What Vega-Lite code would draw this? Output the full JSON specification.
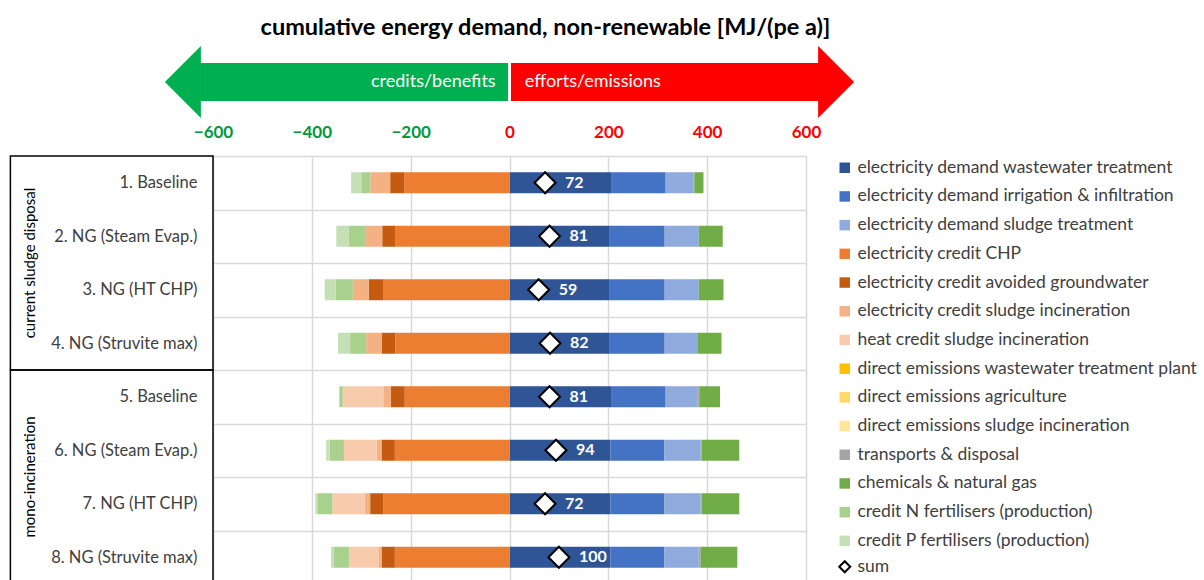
{
 "$schema": "https://vega.github.io/schema/vega-lite/v6.json",
 "padding": {"left": 9, "top": 15, "right": 0, "bottom": 0},
 "background": "white",
 "config": {"font": "Lato", "view": {"stroke": null}},
 "spacing": 5,
 "datasets": {
  "arrows": [{"label": "credits/benefits", "side": "left"}, {"label": "efforts/emissions", "side": "right"}],
  "groups": [
   {"group": "current sludge disposal", "first": "1. Baseline", "mid": "2. NG (Steam Evap.)", "last": "4. NG (Struvite max)"},
   {"group": "mono-incineration", "first": "5. Baseline", "mid": "6. NG (Steam Evap.)", "last": "8. NG (Struvite max)"}
  ],
  "sums": [
   {"scenario": "1. Baseline", "sum": 72},
   {"scenario": "2. NG (Steam Evap.)", "sum": 81},
   {"scenario": "3. NG (HT CHP)", "sum": 59},
   {"scenario": "4. NG (Struvite max)", "sum": 82},
   {"scenario": "5. Baseline", "sum": 81},
   {"scenario": "6. NG (Steam Evap.)", "sum": 94},
   {"scenario": "7. NG (HT CHP)", "sum": 72},
   {"scenario": "8. NG (Struvite max)", "sum": 100}
  ],
  "bars": [
   {"scenario": "1. Baseline", "component": "electricity demand wastewater treatment", "value": 207},
   {"scenario": "1. Baseline", "component": "electricity demand irrigation & infiltration", "value": 109},
   {"scenario": "1. Baseline", "component": "electricity demand sludge treatment", "value": 57},
   {"scenario": "1. Baseline", "component": "transports & disposal", "value": 1},
   {"scenario": "1. Baseline", "component": "chemicals & natural gas", "value": 18.5},
   {"scenario": "1. Baseline", "component": "electricity credit CHP", "value": -213},
   {"scenario": "1. Baseline", "component": "electricity credit avoided groundwater", "value": -28.5},
   {"scenario": "1. Baseline", "component": "electricity credit sludge incineration", "value": -40},
   {"scenario": "1. Baseline", "component": "credit N fertilisers (production)", "value": -18.5},
   {"scenario": "1. Baseline", "component": "credit P fertilisers (production)", "value": -20.5},

   {"scenario": "2. NG (Steam Evap.)", "component": "electricity demand wastewater treatment", "value": 203},
   {"scenario": "2. NG (Steam Evap.)", "component": "electricity demand irrigation & infiltration", "value": 111},
   {"scenario": "2. NG (Steam Evap.)", "component": "electricity demand sludge treatment", "value": 69},
   {"scenario": "2. NG (Steam Evap.)", "component": "chemicals & natural gas", "value": 48.5},
   {"scenario": "2. NG (Steam Evap.)", "component": "electricity credit CHP", "value": -230.5},
   {"scenario": "2. NG (Steam Evap.)", "component": "electricity credit avoided groundwater", "value": -27},
   {"scenario": "2. NG (Steam Evap.)", "component": "electricity credit sludge incineration", "value": -35},
   {"scenario": "2. NG (Steam Evap.)", "component": "credit N fertilisers (production)", "value": -32.5},
   {"scenario": "2. NG (Steam Evap.)", "component": "credit P fertilisers (production)", "value": -25.5},

   {"scenario": "3. NG (HT CHP)", "component": "electricity demand wastewater treatment", "value": 203},
   {"scenario": "3. NG (HT CHP)", "component": "electricity demand irrigation & infiltration", "value": 111},
   {"scenario": "3. NG (HT CHP)", "component": "electricity demand sludge treatment", "value": 69},
   {"scenario": "3. NG (HT CHP)", "component": "chemicals & natural gas", "value": 50},
   {"scenario": "3. NG (HT CHP)", "component": "electricity credit CHP", "value": -256},
   {"scenario": "3. NG (HT CHP)", "component": "electricity credit avoided groundwater", "value": -28.5},
   {"scenario": "3. NG (HT CHP)", "component": "electricity credit sludge incineration", "value": -32.5},
   {"scenario": "3. NG (HT CHP)", "component": "credit N fertilisers (production)", "value": -35},
   {"scenario": "3. NG (HT CHP)", "component": "credit P fertilisers (production)", "value": -22},

   {"scenario": "4. NG (Struvite max)", "component": "electricity demand wastewater treatment", "value": 203},
   {"scenario": "4. NG (Struvite max)", "component": "electricity demand irrigation & infiltration", "value": 111},
   {"scenario": "4. NG (Struvite max)", "component": "electricity demand sludge treatment", "value": 66},
   {"scenario": "4. NG (Struvite max)", "component": "chemicals & natural gas", "value": 49},
   {"scenario": "4. NG (Struvite max)", "component": "electricity credit CHP", "value": -231},
   {"scenario": "4. NG (Struvite max)", "component": "electricity credit avoided groundwater", "value": -27},
   {"scenario": "4. NG (Struvite max)", "component": "electricity credit sludge incineration", "value": -32},
   {"scenario": "4. NG (Struvite max)", "component": "credit N fertilisers (production)", "value": -32.5},
   {"scenario": "4. NG (Struvite max)", "component": "credit P fertilisers (production)", "value": -24.5},

   {"scenario": "5. Baseline", "component": "electricity demand wastewater treatment", "value": 207},
   {"scenario": "5. Baseline", "component": "electricity demand irrigation & infiltration", "value": 109},
   {"scenario": "5. Baseline", "component": "electricity demand sludge treatment", "value": 64},
   {"scenario": "5. Baseline", "component": "transports & disposal", "value": 4},
   {"scenario": "5. Baseline", "component": "chemicals & natural gas", "value": 42},
   {"scenario": "5. Baseline", "component": "electricity credit CHP", "value": -212},
   {"scenario": "5. Baseline", "component": "electricity credit avoided groundwater", "value": -28},
   {"scenario": "5. Baseline", "component": "electricity credit sludge incineration", "value": -15.5},
   {"scenario": "5. Baseline", "component": "heat credit sludge incineration", "value": -82},
   {"scenario": "5. Baseline", "component": "credit N fertilisers (production)", "value": -5.5},
   {"scenario": "5. Baseline", "component": "credit P fertilisers (production)", "value": -2},

   {"scenario": "6. NG (Steam Evap.)", "component": "electricity demand wastewater treatment", "value": 204.5},
   {"scenario": "6. NG (Steam Evap.)", "component": "electricity demand irrigation & infiltration", "value": 109},
   {"scenario": "6. NG (Steam Evap.)", "component": "electricity demand sludge treatment", "value": 73.5},
   {"scenario": "6. NG (Steam Evap.)", "component": "transports & disposal", "value": 2},
   {"scenario": "6. NG (Steam Evap.)", "component": "chemicals & natural gas", "value": 76},
   {"scenario": "6. NG (Steam Evap.)", "component": "electricity credit CHP", "value": -232},
   {"scenario": "6. NG (Steam Evap.)", "component": "electricity credit avoided groundwater", "value": -27},
   {"scenario": "6. NG (Steam Evap.)", "component": "electricity credit sludge incineration", "value": -10},
   {"scenario": "6. NG (Steam Evap.)", "component": "heat credit sludge incineration", "value": -66},
   {"scenario": "6. NG (Steam Evap.)", "component": "credit N fertilisers (production)", "value": -29},
   {"scenario": "6. NG (Steam Evap.)", "component": "credit P fertilisers (production)", "value": -7},

   {"scenario": "7. NG (HT CHP)", "component": "electricity demand wastewater treatment", "value": 204.5},
   {"scenario": "7. NG (HT CHP)", "component": "electricity demand irrigation & infiltration", "value": 109},
   {"scenario": "7. NG (HT CHP)", "component": "electricity demand sludge treatment", "value": 73.5},
   {"scenario": "7. NG (HT CHP)", "component": "transports & disposal", "value": 2},
   {"scenario": "7. NG (HT CHP)", "component": "chemicals & natural gas", "value": 76},
   {"scenario": "7. NG (HT CHP)", "component": "electricity credit CHP", "value": -255},
   {"scenario": "7. NG (HT CHP)", "component": "electricity credit avoided groundwater", "value": -27},
   {"scenario": "7. NG (HT CHP)", "component": "electricity credit sludge incineration", "value": -11.5},
   {"scenario": "7. NG (HT CHP)", "component": "heat credit sludge incineration", "value": -65},
   {"scenario": "7. NG (HT CHP)", "component": "credit N fertilisers (production)", "value": -29},
   {"scenario": "7. NG (HT CHP)", "component": "credit P fertilisers (production)", "value": -5.5},

   {"scenario": "8. NG (Struvite max)", "component": "electricity demand wastewater treatment", "value": 204.5},
   {"scenario": "8. NG (Struvite max)", "component": "electricity demand irrigation & infiltration", "value": 109},
   {"scenario": "8. NG (Struvite max)", "component": "electricity demand sludge treatment", "value": 69.5},
   {"scenario": "8. NG (Struvite max)", "component": "transports & disposal", "value": 4},
   {"scenario": "8. NG (Struvite max)", "component": "chemicals & natural gas", "value": 74},
   {"scenario": "8. NG (Struvite max)", "component": "electricity credit CHP", "value": -232},
   {"scenario": "8. NG (Struvite max)", "component": "electricity credit avoided groundwater", "value": -27},
   {"scenario": "8. NG (Struvite max)", "component": "electricity credit sludge incineration", "value": -6.5},
   {"scenario": "8. NG (Struvite max)", "component": "heat credit sludge incineration", "value": -59.5},
   {"scenario": "8. NG (Struvite max)", "component": "credit N fertilisers (production)", "value": -30},
   {"scenario": "8. NG (Struvite max)", "component": "credit P fertilisers (production)", "value": -6}
  ]
 },
 "vconcat": [
  {
   "width": 593,
   "height": 72,
   "title": {"text": "cumulative energy demand, non-renewable [MJ/(pe a)]", "font": "Lato", "fontSize": 23.5, "fontWeight": "bold", "color": "#000000", "anchor": "middle", "dx": 36, "offset": 7},
   "data": {"name": "arrows"},
   "layer": [
    {
     "transform": [{"filter": "datum.side === 'left'"}],
     "mark": {"type": "rect", "color": "#00B050"},
     "encoding": {
      "x": {"datum": -626, "type": "quantitative", "scale": {"domain": [-600, 600]}, "axis": null},
      "x2": {"datum": -3},
      "y": {"datum": -0.528, "type": "quantitative", "scale": {"domain": [-1, 1]}, "axis": null},
      "y2": {"datum": 0.528}
     }
    },
    {
     "transform": [{"filter": "datum.side === 'left'"}],
     "mark": {"type": "point", "shape": "M0.5,-1L-0.5,0L0.5,1Z", "size": 5184, "filled": true, "color": "#00B050", "opacity": 1, "strokeWidth": 0},
     "encoding": {"x": {"datum": -661, "type": "quantitative"}, "y": {"datum": 0, "type": "quantitative"}}
    },
    {
     "transform": [{"filter": "datum.side === 'left'"}],
     "mark": {"type": "text", "align": "right", "baseline": "middle", "color": "#FFFFFF", "fontSize": 18, "font": "Lato"},
     "encoding": {"x": {"datum": -28, "type": "quantitative"}, "y": {"datum": 0, "type": "quantitative"}, "text": {"field": "label"}}
    },
    {
     "transform": [{"filter": "datum.side === 'right'"}],
     "mark": {"type": "rect", "color": "#FF0000"},
     "encoding": {
      "x": {"datum": 3, "type": "quantitative"},
      "x2": {"datum": 626},
      "y": {"datum": -0.528, "type": "quantitative"},
      "y2": {"datum": 0.528}
     }
    },
    {
     "transform": [{"filter": "datum.side === 'right'"}],
     "mark": {"type": "point", "shape": "M-0.5,-1L0.5,0L-0.5,1Z", "size": 5184, "filled": true, "color": "#FF0000", "opacity": 1, "strokeWidth": 0},
     "encoding": {"x": {"datum": 661, "type": "quantitative"}, "y": {"datum": 0, "type": "quantitative"}}
    },
    {
     "transform": [{"filter": "datum.side === 'right'"}],
     "mark": {"type": "text", "align": "left", "baseline": "middle", "color": "#FFFFFF", "fontSize": 18, "font": "Lato"},
     "encoding": {"x": {"datum": 31, "type": "quantitative"}, "y": {"datum": 0, "type": "quantitative"}, "text": {"field": "label"}}
    }
   ]
  },
  {
   "width": 593,
   "height": 428,
   "layer": [
    {
     "data": {"name": "bars"},
     "transform": [{"calculate": "indexof(['electricity demand wastewater treatment','electricity demand irrigation & infiltration','electricity demand sludge treatment','electricity credit CHP','electricity credit avoided groundwater','electricity credit sludge incineration','heat credit sludge incineration','direct emissions wastewater treatment plant','direct emissions agriculture','direct emissions sludge incineration','transports & disposal','chemicals & natural gas','credit N fertilisers (production)','credit P fertilisers (production)'], datum.component)", "as": "rank"}],
     "mark": {"type": "bar", "size": 21},
     "encoding": {
      "x": {
       "field": "value", "type": "quantitative", "stack": "zero",
       "scale": {"domain": [-600, 600], "nice": false},
       "axis": {
        "orient": "top", "values": [-600, -400, -200, 0, 200, 400, 600], "title": null,
        "labelFont": "Lato", "labelFontSize": 17, "labelFontWeight": "bold",
        "labelColor": {"condition": {"test": "datum.value < 0", "value": "#009A3E"}, "value": "#FF0000"},
        "ticks": false, "domain": false, "grid": true, "gridColor": "#D9D9D9", "gridWidth": 1.5,
        "labelPadding": 15, "labelFlush": false, "labelOverlap": false
       }
      },
      "y": {
       "field": "scenario", "type": "nominal",
       "scale": {"domain": ["1. Baseline", "2. NG (Steam Evap.)", "3. NG (HT CHP)", "4. NG (Struvite max)", "5. Baseline", "6. NG (Steam Evap.)", "7. NG (HT CHP)", "8. NG (Struvite max)"], "paddingInner": 0, "paddingOuter": 0},
       "axis": {
        "title": null, "labelFont": "Lato", "labelFontSize": 16.5, "labelColor": "#404040",
        "labelPadding": 16, "ticks": false, "domain": false, "grid": true, "tickBand": "extent",
        "gridColor": "#D9D9D9", "gridWidth": 1.5
       }
      },
      "color": {
       "field": "component", "type": "nominal",
       "scale": {
        "domain": ["electricity demand wastewater treatment", "electricity demand irrigation & infiltration", "electricity demand sludge treatment", "electricity credit CHP", "electricity credit avoided groundwater", "electricity credit sludge incineration", "heat credit sludge incineration", "direct emissions wastewater treatment plant", "direct emissions agriculture", "direct emissions sludge incineration", "transports & disposal", "chemicals & natural gas", "credit N fertilisers (production)", "credit P fertilisers (production)"],
        "range": ["#2F5597", "#4472C4", "#8FAADC", "#ED7D31", "#C55A11", "#F4B183", "#F8CBAD", "#FFC000", "#FFD966", "#FFE699", "#A5A5A5", "#70AD47", "#A9D18E", "#C5E0B4"]
       },
       "legend": {
        "title": null, "orient": "none", "legendX": 623, "legendY": 113,
        "symbolType": "square", "symbolSize": 110, "symbolStrokeWidth": 0,
        "labelFont": "Lato", "labelFontSize": 17.5, "labelColor": "#404040", "labelLimit": 500,
        "labelOffset": 4, "rowPadding": 9.7
       }
      },
      "order": {"field": "rank", "type": "quantitative"}
     }
    },
    {
     "data": {"name": "groups"},
     "mark": {"type": "rect", "fillOpacity": 0, "stroke": "#000000", "strokeWidth": 1.5},
     "encoding": {
      "x": {"datum": -1010, "type": "quantitative"},
      "x2": {"datum": -600},
      "y": {"field": "first", "type": "nominal", "bandPosition": 0},
      "y2": {"field": "last", "bandPosition": 1}
     }
    },
    {
     "data": {"name": "groups"},
     "mark": {"type": "text", "angle": 270, "align": "center", "baseline": "middle", "font": "Lato", "fontSize": 15, "color": "#000000"},
     "encoding": {
      "x": {"datum": -971, "type": "quantitative"},
      "y": {"field": "mid", "type": "nominal", "bandPosition": 1},
      "text": {"field": "group"}
     }
    },
    {
     "data": {"name": "sums"},
     "mark": {"type": "point", "fill": "#FFFFFF", "fillOpacity": 1, "strokeWidth": 2, "size": 441, "opacity": 1},
     "encoding": {
      "x": {"field": "sum", "type": "quantitative"},
      "y": {"field": "scenario", "type": "nominal"},
      "shape": {
       "datum": "sum", "type": "nominal",
       "scale": {"domain": ["sum"], "range": ["diamond"]},
       "legend": {
        "title": null, "orient": "none", "legendX": 623, "legendY": 512,
        "symbolSize": 121, "symbolStrokeWidth": 2,
        "labelFont": "Lato", "labelFontSize": 17.5, "labelColor": "#404040", "labelOffset": 4
       }
      },
      "stroke": {
       "datum": "sum", "type": "nominal",
       "scale": {"domain": ["sum"], "range": ["#000000"]},
       "legend": {
        "title": null, "orient": "none", "legendX": 623, "legendY": 512,
        "symbolSize": 121, "symbolStrokeWidth": 2,
        "labelFont": "Lato", "labelFontSize": 17.5, "labelColor": "#404040", "labelOffset": 4
       }
      }
     }
    },
    {
     "data": {"name": "sums"},
     "mark": {"type": "text", "align": "left", "baseline": "middle", "dx": 20, "font": "Lato", "fontSize": 16, "fontWeight": "bold", "color": "#FFFFFF"},
     "encoding": {
      "x": {"field": "sum", "type": "quantitative"},
      "y": {"field": "scenario", "type": "nominal"},
      "text": {"field": "sum"}
     }
    }
   ]
  }
 ]
}
